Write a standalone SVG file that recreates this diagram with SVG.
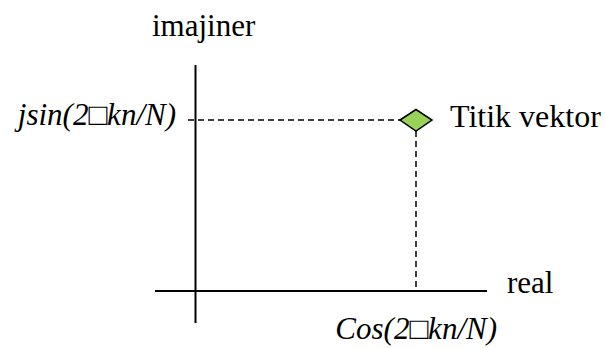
<svg xmlns="http://www.w3.org/2000/svg" width="605" height="349" viewBox="0 0 605 349">
<style>
text{font-family:'Liberation Serif','DejaVu Serif',serif;font-size:31px;fill:#000}
.i{font-style:italic}
.ax{stroke:#000;stroke-width:2;fill:none}
.d{stroke:#000;stroke-width:1.5;stroke-dasharray:6,4;fill:none}
</style>
<rect width="605" height="349" fill="#fff"/>
<g id="connectors">
<line class="ax" x1="195.5" y1="65" x2="195.5" y2="323"/>
<line class="ax" x1="155" y1="291" x2="487" y2="291"/>
<line class="d" x1="188" y1="120" x2="400" y2="120"/>
<line class="d" x1="416" y1="131" x2="416" y2="291"/>
</g>
<g id="point">
<polygon points="400,120 416,109.5 432,120 416,131" fill="#9ad258" stroke="#000" stroke-width="1.5"/>
</g>
<g id="label-imajiner"><text x="152" y="36">imajiner</text></g>
<g id="label-real"><text x="507" y="293">real</text></g>
<g id="label-titik"><text x="450" y="127" style="font-size:32px">Titik vektor</text></g>
<g id="label-jsin"><text class="i" x="176" y="125" text-anchor="end">jsin(2□kn/N)</text></g>
<g id="label-cos"><text class="i" x="497" y="339" text-anchor="end">Cos(2□kn/N)</text></g>
</svg>
